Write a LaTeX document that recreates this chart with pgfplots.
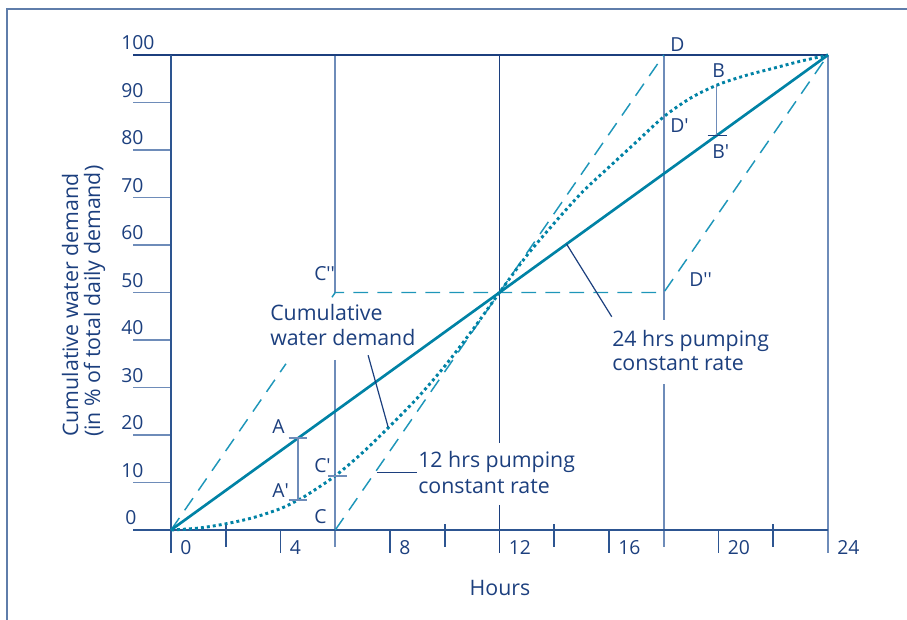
\documentclass[border=0pt]{standalone}
\usepackage{pgfplots}
\pgfplotsset{compat=1.18}
\usepackage{fontspec}
\setmainfont{Open Sans}

\definecolor{navy}{RGB}{28,63,126}
\definecolor{axisblue}{RGB}{45,85,145}
\definecolor{lightblue}{RGB}{110,140,185}
\definecolor{tealsolid}{RGB}{0,130,165}
\definecolor{tealdash}{RGB}{30,150,185}
\definecolor{frame}{RGB}{95,125,170}

\newcommand{\q}{\textquotesingle}
\newcommand{\lab}{\fontsize{14.5}{17}\selectfont}
\newcommand{\txt}{\fontsize{16}{19}\selectfont}

\begin{document}
\begin{tikzpicture}[x=0.75pt,y=0.75pt]
\useasboundingbox (0,0) rectangle (907,619);
\draw[frame, line width=1.3pt] (7,-5) -- (7,610) -- (912,610);

\begin{axis}[
  at={(128.25pt,66.75pt)}, anchor=south west,
  scale only axis, width=492.75pt, height=356.25pt,
  xmin=0, xmax=24, ymin=0, ymax=100,
  clip=false,
  axis line style={draw=none},
  major tick length=0pt, tick style={draw=none},
  xtick={0,4,...,24}, ytick={0,10,...,100},
  yticklabels={\hspace*{3pt}0,10,20,30,40,50,60,70,80,90,100},
  ticklabel style={font=\lab, text=navy, inner sep=0pt},
  xticklabel style={anchor=north west, xshift=6.75pt, yshift=-7.5pt},
  yticklabel style={anchor=south west, xshift=-37.5pt, yshift=3.75pt},
  /pgf/number format/assume math mode=true,
]
% frame lines, ticks and guide lines
\pgfplotsinvokeforeach{10,20,...,90}{
  \draw[lightblue, line width=1.3pt] (axis cs:0,#1) -- ++(-28.5pt,0);
}
\draw[lightblue, line width=1.4pt] (axis cs:6,100) -- (axis cs:6,50);
\draw[lightblue, line width=1.4pt] (axis cs:6,35.8) -- (axis cs:6,0) -- ++(0,-12.75pt);
\draw[lightblue, line width=1.4pt] (axis cs:18,100) -- (axis cs:18,44.2);
\draw[lightblue, line width=1.4pt] (axis cs:18,30.7) -- (axis cs:18,0) -- ++(0,-12.75pt);
\draw[lightblue, line width=1.4pt] (axis cs:24,100) -- (axis cs:24,0) -- ++(0,-17.25pt);
\draw[navy, line width=1.3pt] (axis cs:12,100) -- (axis cs:12,18.3);
\draw[navy, line width=1.3pt] (axis cs:12,5.3) -- (axis cs:12,0) -- ++(0,-17.25pt);
\pgfplotsinvokeforeach{4,8,16,20}{
  \draw[axisblue, line width=1.3pt] (axis cs:#1,0) -- ++(0,-17.25pt);
}
\pgfplotsinvokeforeach{2,10,14,22}{
  \draw[axisblue, line width=1.3pt] (axis cs:#1,0) ++(0,4.5pt) -- ++(0,-17.25pt);
}
\draw[navy, line width=1.5pt] (axis cs:0,100) ++(-28.5pt,0) -- (axis cs:24,100);
\draw[axisblue, line width=1.7pt] (axis cs:0,0) ++(-28.5pt,0) -- (axis cs:24,0);
\draw[axisblue, line width=1.7pt] (axis cs:0,100) -- (axis cs:0,0) -- ++(0,-17.25pt);

% 12 hrs pumping (dashed)
\addplot[tealdash, line width=1.1pt, dash pattern=on 11pt off 7pt] coordinates {(6,0) (18,100)};
\addplot[tealdash, line width=1.1pt, dash pattern=on 11pt off 7pt] coordinates {(0,0) (4.2,35)};
\addplot[tealdash, line width=1.1pt, dash pattern=on 11pt off 7pt] coordinates {(5.88,49) (6,50) (18,50) (24,100)};

% cumulative water demand (dotted)
\addplot[tealsolid, line width=2.2pt, dash pattern=on 2.2pt off 2.3pt, smooth] coordinates {
  (0,0) (1,0.4) (2,1.3) (3,2.6) (4,4.5) (4.64,6.3) (5,7.5) (6,11.4) (7,16.3)
  (8,21.9) (9,27.8) (10,34.5) (11,42.0) (12,50) (13,57.8) (14,64.6) (15,71.0)
  (16,76.4) (17,81.7) (18,87.0) (19,91.0) (20,93.8) (21,95.7) (22,97.2)
  (23,98.7) (24,100)
};

% 24 hrs pumping (solid)
\addplot[tealsolid, line width=2pt] coordinates {(0,0) (24,100)};

% brackets
\draw[lightblue, line width=1.1pt] (axis cs:4.64,19.33) -- (axis cs:4.64,6.3);
\draw[lightblue, line width=1.1pt] (axis cs:4.3,19.33) -- (axis cs:4.95,19.33);
\draw[lightblue, line width=1.1pt] (axis cs:4.3,6.3) -- (axis cs:4.95,6.3);
\draw[lightblue, line width=1.1pt] (axis cs:5.74,11.4) -- (axis cs:6.42,11.4);
\draw[lightblue, line width=1.1pt] (axis cs:19.93,93.6) -- (axis cs:19.93,83.04);
\draw[navy, line width=1.1pt] (axis cs:19.6,83.04) -- (axis cs:20.3,83.04);

% leaders
\draw[navy, line width=0.9pt] (axis cs:7.2,36.8) -- (axis cs:7.93,21.7);
\draw[navy, line width=0.9pt] (axis cs:7.52,12.1) -- (axis cs:8.99,12.1);
\draw[navy, line width=0.9pt] (axis cs:14.45,60.2) -- (axis cs:16.1,44.9);
\end{axis}

% point labels
\begin{scope}[every node/.style={text=navy, inner sep=0pt, anchor=base west, font=\lab}]
\node at (272,619-433) {A};
\node at (272,619-497) {A\q};
\node at (314,619-472) {C\q};
\node at (314,619-523) {C};
\node at (314,619-280) {C\q\q};
\node at (670,619-52) {D};
\node at (712,619-78) {B};
\node at (670,619-133) {D\q};
\node at (712,619-159) {B\q};
\node at (689,619-286) {D\q\q};
\end{scope}

\begin{scope}[every node/.style={text=navy, inner sep=0pt, anchor=base west, font=\txt}]
\node at (270,619-320) {Cumulative};
\node at (270,619-345) {water demand};
\node at (418,619-467) {12 hrs pumping};
\node at (418,619-493) {constant rate};
\node at (612,619-346) {24 hrs pumping};
\node at (612,619-370) {constant rate};
\node[anchor=base] at (500,619-595) {Hours};
\node[rotate=90] at (78,619-437) {Cumulative water demand};
\node[rotate=90] at (100,619-437) {(in \% of total daily demand)};
\end{scope}
\end{tikzpicture}
\end{document}
